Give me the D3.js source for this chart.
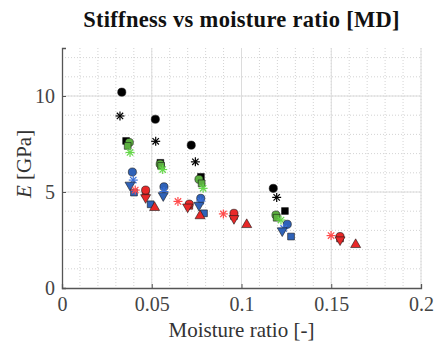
<!DOCTYPE html>
<html>
<head>
<meta charset="utf-8">
<script src="https://cdn.jsdelivr.net/npm/d3@7"></script>
<style>
  body { margin: 0; background: #fff; }
  text { font-family: "Liberation Serif", "DejaVu Serif", serif; }
</style>
</head>
<body>
<svg width="435" height="348"></svg>
<script>
var svg = d3.select("svg");

// tick labels
var xTicks = [0, 0.05, 0.1, 0.15, 0.2];
var yTicks = [0, 5, 10];

// series: [moisture ratio, E]
var blackCircle   = [[0.0333, 10.2], [0.052, 8.79], [0.072, 7.44], [0.1177, 5.19]];
var blackStar     = [[0.0323, 8.96], [0.0522, 7.64], [0.0743, 6.57], [0.1196, 4.72]];
var blackSquare   = [[0.0357, 7.66], [0.0548, 6.52], [0.0774, 5.79], [0.1242, 4.01]];
var greenCircle   = [[0.0375, 7.58], [0.0547, 6.45], [0.0763, 5.66], [0.1192, 3.80]];
var greenSquare   = [[0.0366, 7.40], [0.0552, 6.36], [0.0778, 5.45], [0.1196, 3.66]];
var greenStar     = [[0.0379, 7.06], [0.0561, 6.17], [0.0786, 5.19], [0.122, 3.54]];
var blueCircle    = [[0.0392, 6.04], [0.0568, 5.27], [0.0773, 4.67], [0.1255, 3.32]];
var blueStar      = [[0.0397, 5.62], [0.0568, 5.02], [0.0773, 4.53], [0.1235, 3.10]];
var blueDown      = [[0.0379, 5.32], [0.0564, 4.77], [0.0763, 4.27], [0.1227, 2.94]];
var blueSquare    = [[0.0401, 4.97], [0.0494, 4.36], [0.0791, 3.89], [0.1276, 2.68]];
var redStar       = [[0.0408, 5.10], [0.0646, 4.51], [0.0899, 3.86], [0.1499, 2.73]];
var redCircle     = [[0.0466, 5.10], [0.0709, 4.37], [0.0958, 3.89], [0.1549, 2.68]];
var redSquare     = [[0.0466, 4.92], [0.0709, 4.28], [0.0958, 3.75], [0.1549, 2.58]];
var redDown       = [[0.0466, 4.67], [0.070, 4.18], [0.0958, 3.58], [0.1549, 2.47]];
var redUp         = [[0.0516, 4.23], [0.0769, 3.80], [0.1029, 3.34], [0.1636, 2.30]];

var series = [
  {data: blackCircle, shape: "circle", fill: "#000000"},
  {data: blackStar,   shape: "star",   fill: "#000000"},
  {data: blackSquare, shape: "square", fill: "#000000"},
  {data: greenCircle, shape: "circle", fill: "#5cb040"},
  {data: greenSquare, shape: "square", fill: "#5cb040"},
  {data: greenStar,   shape: "star",   fill: "#66d84a"},
  {data: blueCircle,  shape: "circle", fill: "#2f62b8"},
  {data: blueStar,    shape: "star",   fill: "#3a70d8"},
  {data: blueDown,    shape: "down",   fill: "#2f62b8"},
  {data: blueSquare,  shape: "square", fill: "#2f62b8"},
  {data: redStar,     shape: "star",   fill: "#ff4a4a"},
  {data: redSquare,   shape: "square", fill: "#e82828"},
  {data: redCircle,   shape: "circle", fill: "#e82828"},
  {data: redDown,     shape: "down",   fill: "#e82828"},
  {data: redUp,       shape: "up",     fill: "#e82828"}
];

var mLeft = 62, mRight = 421, mTop = 48, mBottom = 288;

var x = d3.scaleLinear().domain([0, 0.2]).range([mLeft, mRight]);
var y = d3.scaleLinear().domain([0, 12.5]).range([mBottom, mTop]);

// minor grid (dotted)
var grid = svg.append("g");
grid.selectAll(".vx")
  .data(d3.range(1, 21).map(function(i){ return i * 0.01; }))
  .enter().append("line")
  .attr("x1", function(d){ return x(d); }).attr("x2", function(d){ return x(d); })
  .attr("y1", mTop).attr("y2", mBottom)
  .attr("stroke", "#c8c8c8").attr("stroke-width", 0.8)
  .attr("stroke-dasharray", "1,2");
grid.selectAll(".hy")
  .data(d3.range(1, 13))
  .enter().append("line")
  .attr("y1", function(d){ return y(d); }).attr("y2", function(d){ return y(d); })
  .attr("x1", mLeft).attr("x2", mRight)
  .attr("stroke", "#c8c8c8").attr("stroke-width", 0.8)
  .attr("stroke-dasharray", "1,2");

// major grid (solid)
grid.selectAll(".mx")
  .data(xTicks.slice(1))
  .enter().append("line")
  .attr("x1", function(d){ return x(d); }).attr("x2", function(d){ return x(d); })
  .attr("y1", mTop).attr("y2", mBottom)
  .attr("stroke", "#dcdcdc").attr("stroke-width", 1);
grid.selectAll(".my")
  .data(yTicks.slice(1))
  .enter().append("line")
  .attr("y1", function(d){ return y(d); }).attr("y2", function(d){ return y(d); })
  .attr("x1", mLeft).attr("x2", mRight)
  .attr("stroke", "#dcdcdc").attr("stroke-width", 1);

// axes
var xAxis = d3.axisBottom(x).tickValues(xTicks).tickSize(-4).tickPadding(9)
  .tickFormat(function(d){ return d === 0 ? "0" : d3.format("")(d); });
var gx = svg.append("g").attr("transform", "translate(0," + mBottom + ")").call(xAxis);
gx.select(".domain").attr("stroke", "#555").attr("stroke-width", 1.3);
gx.selectAll(".tick line").attr("stroke", "#555");
gx.selectAll(".tick text").attr("font-size", 20).attr("fill", "#444")
  .attr("font-family", "Liberation Serif");

var yAxis = d3.axisLeft(y).tickValues(yTicks).tickSize(-4).tickPadding(7);
var gy = svg.append("g").attr("transform", "translate(" + mLeft + ",0)").call(yAxis);
gy.select(".domain").attr("stroke", "#555").attr("stroke-width", 1.3);
gy.selectAll(".tick line").attr("stroke", "#555");
gy.selectAll(".tick text").attr("font-size", 20).attr("fill", "#444")
  .attr("font-family", "Liberation Serif");

// markers
var shapes = {
  circle: d3.symbol().type(d3.symbolCircle).size(52),
  square: d3.symbol().type(d3.symbolSquare).size(46)
};
function markerPath(shape) {
  if (shape === "up") return "M0,-5L5,3.7L-5,3.7Z";
  if (shape === "down") return "M0,5L5,-3.7L-5,-3.7Z";
  return shapes[shape]();
}

var marks = svg.append("g");
series.forEach(function(s) {
  var g = marks.selectAll(null)
    .data(s.data)
    .enter().append("g")
    .attr("transform", function(d){ return "translate(" + x(d[0]) + "," + y(d[1]) + ")"; });
  if (s.shape === "star") {
    [0, 45, 90, 135].forEach(function(a) {
      g.append("line")
        .attr("x1", 0).attr("y1", -4.5).attr("x2", 0).attr("y2", 4.5)
        .attr("transform", "rotate(" + a + ")")
        .attr("stroke", s.fill).attr("stroke-width", 1.2);
    });
  } else {
    g.append("path")
      .attr("d", markerPath(s.shape))
      .attr("fill", s.fill)
      .attr("stroke", "#1a1a1a")
      .attr("stroke-width", 0.6);
  }
});

// title and labels
svg.append("text")
  .attr("x", (mLeft + mRight) / 2).attr("y", 27)
  .attr("text-anchor", "middle")
  .attr("font-size", 22.5).attr("font-weight", "bold").attr("fill", "#111")
  .attr("letter-spacing", 0.3)
  .text("Stiffness vs moisture ratio [MD]");

svg.append("text")
  .attr("x", (mLeft + mRight) / 2).attr("y", 337)
  .attr("text-anchor", "middle")
  .attr("font-size", 21).attr("fill", "#333")
  .text("Moisture ratio [-]");

var yl = svg.append("text")
  .attr("transform", "translate(31," + 164 + ") rotate(-90)")
  .attr("text-anchor", "middle")
  .attr("font-size", 21).attr("fill", "#333");
yl.append("tspan").attr("font-style", "italic").text("E");
yl.append("tspan").text(" [GPa]");
</script>
</body>
</html>
